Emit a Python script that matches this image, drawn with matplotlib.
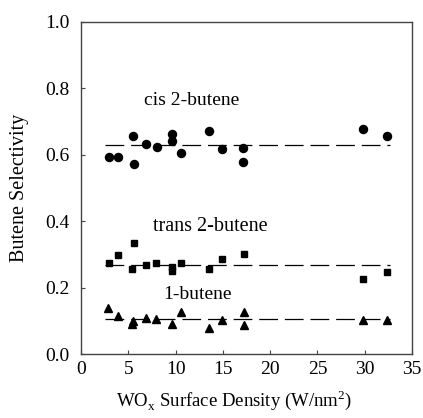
import matplotlib
matplotlib.use('Agg')
import matplotlib.pyplot as plt

plt.rcParams['font.family'] = ['Liberation Serif', 'DejaVu Serif']
plt.rcParams['mathtext.fontset'] = 'custom'
plt.rcParams['mathtext.rm'] = 'Liberation Serif'
plt.rcParams['font.size'] = 14

# cis 2-butene
cis_x = [3.0, 3.95, 5.46, 5.64, 6.84, 8.0, 9.66, 9.66, 10.57, 13.57, 14.88, 17.17, 17.17, 29.86, 32.36]
cis_y = [0.592, 0.592, 0.657, 0.571, 0.632, 0.624, 0.663, 0.643, 0.605, 0.672, 0.617, 0.620, 0.578, 0.679, 0.657]
# trans 2-butene
trans_x = [2.93, 3.95, 5.64, 5.43, 6.84, 7.93, 9.6, 9.6, 10.54, 13.57, 14.88, 17.24, 29.86, 32.36]
trans_y = [0.273, 0.299, 0.335, 0.255, 0.267, 0.275, 0.262, 0.251, 0.275, 0.255, 0.287, 0.301, 0.227, 0.247]
# 1-butene
one_x = [2.89, 3.95, 5.36, 5.53, 6.84, 7.93, 9.66, 10.54, 13.57, 14.88, 17.24, 17.24, 29.86, 32.36]
one_y = [0.138, 0.115, 0.090, 0.100, 0.109, 0.106, 0.090, 0.128, 0.079, 0.102, 0.128, 0.087, 0.102, 0.102]

# average selectivity lines
avg_x = [2.5, 32.7]
avg_cis = 0.631
avg_trans = 0.267
avg_one = 0.106

fig = plt.figure(figsize=(4.23, 4.18), dpi=100)
ax = fig.add_axes([0.1915, 0.1531, 0.7825, 0.7943])

dash = dict(color='black', lw=0.9, dashes=(15, 5.5))
ax.plot(avg_x, [avg_cis] * 2, **dash)
ax.plot(avg_x, [avg_trans] * 2, **dash)
ax.plot(avg_x, [avg_one] * 2, **dash)

ax.plot(cis_x, cis_y, 'o', color='black', ms=5.8, ls='none')
ax.plot(trans_x, trans_y, 's', color='black', ms=4.8, ls='none')
ax.plot(one_x, one_y, '^', color='black', ms=5.4, ls='none')

ax.text(11.7, 0.765, 'cis 2-butene', ha='center', va='center', fontsize=14)
ax.text(13.7, 0.385, 'trans 2-butene', ha='center', va='center', fontsize=14.5)
ax.text(12.3, 0.178, '1-butene', ha='center', va='center', fontsize=14)

ax.set_xlim(0, 35)
ax.set_ylim(0, 1.0)
ax.set_xticks(range(0, 36, 5))
ax.set_yticks([0.0, 0.2, 0.4, 0.6, 0.8, 1.0])
ax.set_yticklabels(['0.0', '0.2', '0.4', '0.6', '0.8', '1.0'])
ax.tick_params(direction='in', length=3, width=0.8, color='#444', labelsize=14)
ax.tick_params(axis='y', pad=8)
ax.tick_params(axis='x', pad=5)
for s in ax.spines.values():
    s.set_color('#444')
    s.set_linewidth(1.0)

ax.set_xlabel(r'WO$_\mathrm{x}$ Surface Density (W/nm$^2$)', fontsize=13.5, labelpad=7, x=0.462)
ax.set_ylabel('Butene Selectivity', fontsize=14.5, labelpad=12)

fig.savefig('out.png', dpi=100)
